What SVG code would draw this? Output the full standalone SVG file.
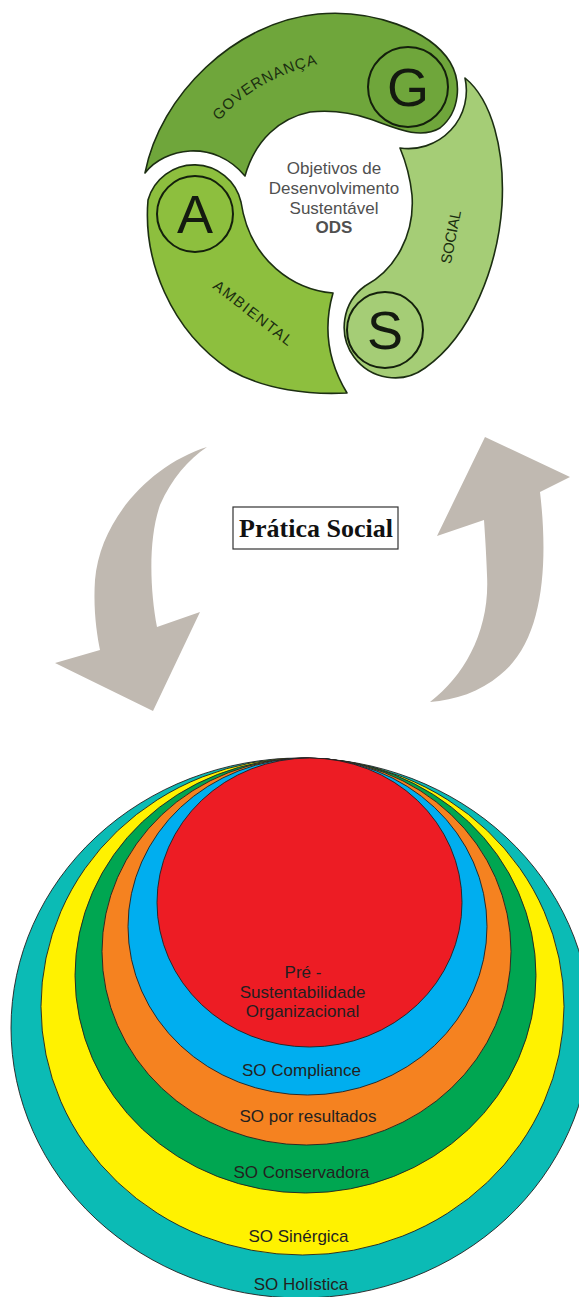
<svg xmlns="http://www.w3.org/2000/svg" width="579" height="1297" viewBox="0 0 579 1297">
<style>
.band{stroke:#1c2e12;stroke-width:1.6;stroke-linejoin:round}
.ring{fill:none;stroke:#14200c;stroke-width:2}
.letter{font-family:"Liberation Sans",Arial,sans-serif;font-size:54px;fill:#141a10;text-anchor:middle}
.blabel{font-family:"Liberation Sans",Arial,sans-serif;font-size:15px;fill:#1b2e10}
.ctext{font-family:"Liberation Sans",Arial,sans-serif;font-size:17px;fill:#505050;text-anchor:middle}
.arrow{fill:#c0b9b1}
.lvl{stroke:#231f20;stroke-width:0.9}
.lt{font-family:"Liberation Sans",Arial,sans-serif;font-size:17px;fill:#231f20;text-anchor:middle}
</style>
<defs>
<path id="govArc" d="M219,121 Q262,70 350,58"/>
</defs>
<rect width="579" height="1297" fill="#fff"/>

<g id="governanca">
<path class="band" fill="#6fa63b" d="M145,173 C160,95 235,22 318,14 C372,9 430,30 450,62 C462,82 460,112 440,128 C420,140 395,128 370,119 C350,112 330,110 310,112 C280,118 255,140 245,176 C230,158 210,150 190,151 C172,152 155,160 145,173 Z"/>
<circle class="ring" cx="408" cy="87" r="40"/>
<text class="letter" x="408" y="106">G</text>
<text class="blabel" font-size="16" letter-spacing="1"><textPath href="#govArc">GOVERNANÇA</textPath></text>
</g>

<g id="social">
<path class="band" fill="#a5cd76" d="M465,78 C492,100 505,150 502,205 C498,265 472,335 425,368 A48,48 0 1 1 365,286 C395,270 415,235 412,195 C410,175 405,160 400,148 A58,58 0 0 0 465,78 Z"/>
<circle class="ring" cx="385" cy="330" r="38"/>
<text class="letter" x="385" y="349">S</text>
<text class="blabel" transform="translate(451,237) rotate(-79)" text-anchor="middle" dy="5" textLength="54" lengthAdjust="spacing">SOCIAL</text>
</g>

<g id="ambiental">
<path class="band" fill="#8dbf3e" d="M241,202 A48,48 0 0 0 148,200 C143,260 170,330 230,370 C265,390 310,395 347,393 Q318,345 333,293 C295,290 250,262 241,202 Z"/>
<circle class="ring" cx="195" cy="214" r="38"/>
<text class="letter" x="195" y="233">A</text>
<text class="blabel" transform="translate(253,313) rotate(38)" text-anchor="middle" dy="5" textLength="96" lengthAdjust="spacing">AMBIENTAL</text>
</g>

<g id="ods">
<text class="ctext" x="334" y="174">Objetivos de</text>
<text class="ctext" x="334" y="194">Desenvolvimento</text>
<text class="ctext" x="334" y="214">Sustentável</text>
<text class="ctext" x="334" y="233" font-weight="bold" fill="#222">ODS</text>
</g>

<g id="pratica-social">
<rect x="233" y="507" width="165" height="42" fill="#fff" stroke="#333" stroke-width="1.2"/>
<text x="316" y="537" font-family="'Liberation Serif','Times New Roman',serif" font-weight="bold" font-size="26" fill="#111" text-anchor="middle">Prática Social</text>
</g>

<g id="connectors">
<path class="arrow" d="M207,447 C150,465 100,520 95,580 C93,610 97,635 100,650 L55,663 L153,711 L200,612 L157,627 C150,590 148,540 160,505 C172,478 188,460 207,447 Z"/>
<path class="arrow" d="M485,437 L570,477 L540,492 C548,560 545,640 500,675 C480,692 455,700 430,702 C465,675 490,630 487,575 C486,550 485,535 484,520 L437,536 Z"/>
</g>

<g id="so-holistica">
<ellipse class="lvl" fill="#0bbbb5" cx="301" cy="1028" rx="290" ry="270"/>
<text class="lt" x="301" y="1290">SO Holística</text>
</g>
<g id="so-sinergica">
<ellipse class="lvl" fill="#fff200" cx="302.5" cy="1006.5" rx="261.5" ry="248.5"/>
<text class="lt" x="298.5" y="1242">SO Sinérgica</text>
</g>
<g id="so-conservadora">
<ellipse class="lvl" fill="#00a651" cx="305.5" cy="975.5" rx="230.5" ry="217.5"/>
<text class="lt" x="301.5" y="1178">SO Conservadora</text>
</g>
<g id="so-resultados">
<ellipse class="lvl" fill="#f58220" cx="306.5" cy="951.5" rx="204.5" ry="193.5"/>
<text class="lt" x="308" y="1122" font-size="19">SO por resultados</text>
</g>
<g id="so-compliance">
<ellipse class="lvl" fill="#00aeef" cx="307.5" cy="926.5" rx="179.5" ry="168.5"/>
<text class="lt" x="301.5" y="1076">SO Compliance</text>
</g>
<g id="pre-sustentabilidade">
<ellipse class="lvl" fill="#ed1c24" cx="309.5" cy="902.5" rx="152.5" ry="144.5"/>
<text class="lt" x="303" y="978">Pré -</text>
<text class="lt" x="302.5" y="998">Sustentabilidade</text>
<text class="lt" x="302.5" y="1017">Organizacional</text>
</g>
</svg>
